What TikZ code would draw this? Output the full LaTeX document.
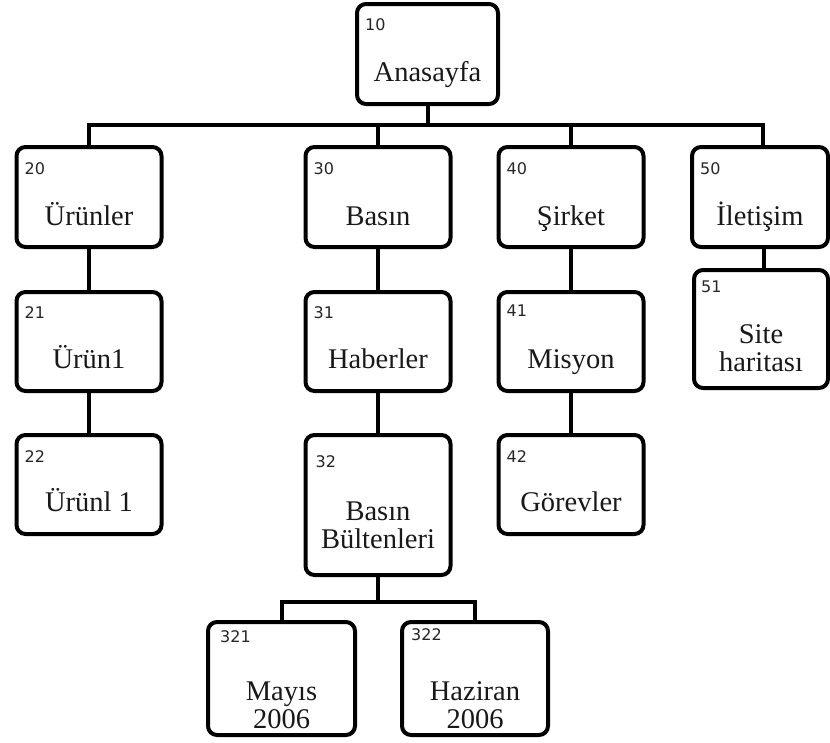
\documentclass[tikz,border=0pt]{standalone}
\usepackage{fontspec}
\setmainfont{Liberation Serif}
\newfontfamily\numfont{DejaVu Sans}
\usetikzlibrary{positioning}
\tikzset{
  % --- site pages ------------------------------------------------------------
  page/.style={rectangle,draw=black,fill=white,line width=4pt,
               rounded corners=9pt,inner sep=0pt,
               minimum width=145pt,minimum height=100pt},
  num/.style={anchor=north west,inner sep=0pt,text=black!85,
              font=\numfont\fontsize{16}{16}\selectfont},
  % base anchor of a two-line text sits on its last line
  txt/.style={anchor=base,inner sep=0pt,align=center,text=black!90,
              font=\fontsize{28.5}{28}\selectfont},
  % --- links -----------------------------------------------------------------
  link/.style={line width=4pt,black},
}
\begin{document}
\begin{tikzpicture}[x=1pt, y=-1pt]
  \useasboundingbox (0,0) rectangle (830,742);

  \node[page,minimum width=141pt] (b10) at (427.5,54) {};
  \node[page] (b20) at (89,197)  {};
  \node[page] (b30) at (378,197) {};
  \node[page] (b40) at (571,197) {};
  \node[page,minimum width=136pt] (b50) at (760,197) {};

  \node[page,minimum height=99pt]  (b21) at (89,341.5)  {};
  \node[page,minimum height=99pt]  (b31) at (378,341.5) {};
  \node[page,minimum height=99pt]  (b41) at (571,341.5) {};
  \node[page,minimum width=134pt,minimum height=118pt] (b51) at (761,329) {};

  \node[page,minimum height=99pt]  (b22) at (89,484.5)  {};
  \node[page,minimum height=140pt] (b32) at (378,505)   {};
  \node[page,minimum height=99pt]  (b42) at (571,484.5) {};

  \node[page,minimum width=147pt,minimum height=113pt] (b321) at (281.5,678.5) {};
  \node[page,minimum width=146pt,minimum height=113pt] (b322) at (475,678.5)   {};

  \coordinate (bus)  at (427.5,125);
  \coordinate (fork) at (378,602);
  \draw[link] (b10) -- (b10 |- bus);
  \draw[link] (b20) |- (bus) -| ([xshift=3pt]b50.north);
  \draw[link] (b30) -- (b30 |- bus);
  \draw[link] (b40) -- (b40 |- bus);
  \draw[link] (b20) -- (b21) (b21) -- (b22);
  \draw[link] (b30) -- (b31) (b31) -- (b32);
  \draw[link] (b40) -- (b41) (b41) -- (b42);
  \draw[link] ([xshift=4pt]b50.south) -- ([xshift=4pt]b50.south |- b51.north);
  \draw[link] (b32) -- (fork);
  \draw[link] (b321) |- (fork) -| (b322);

  \node[num] (n10)  at ([xshift=10pt,yshift=-16pt]b10.north west)  {10};
  \node[num] (n20)  at ([xshift=10pt,yshift=-17pt]b20.north west)  {20};
  \node[num] (n30)  at ([xshift=10pt,yshift=-17pt]b30.north west)  {30};
  \node[num] (n40)  at ([xshift=10pt,yshift=-17pt]b40.north west)  {40};
  \node[num] (n50)  at ([xshift=10pt,yshift=-17pt]b50.north west)  {50};
  \node[num] (n21)  at ([xshift=10pt,yshift=-16pt]b21.north west)  {21};
  \node[num] (n31)  at ([xshift=10pt,yshift=-16pt]b31.north west)  {31};
  \node[num] (n41)  at ([xshift=10pt,yshift=-15pt]b41.north west)  {41};
  \node[num] (n51)  at ([xshift=9pt,yshift=-13pt]b51.north west)   {51};
  \node[num] (n22)  at ([xshift=10pt,yshift=-17pt]b22.north west)  {22};
  \node[num] (n32)  at ([xshift=12pt,yshift=-22pt]b32.north west)  {32};
  \node[num] (n42)  at ([xshift=10pt,yshift=-17pt]b42.north west)  {42};
  \node[num] (n321) at ([xshift=14pt,yshift=-10pt]b321.north west) {321};
  \node[num] (n322) at ([xshift=11pt,yshift=-8pt]b322.north west)  {322};

  \node[txt] (t10)  at ([yshift=-79pt]b10.north)  {Anasayfa};
  \node[txt] (t20)  at ([yshift=-80pt]b20.north)  {Ürünler};
  \node[txt] (t30)  at ([yshift=-80pt]b30.north)  {Basın};
  \node[txt] (t40)  at ([yshift=-80pt]b40.north)  {Şirket};
  \node[txt] (t50)  at ([yshift=-80pt]b50.north)  {İletişim};
  \node[txt] (t21)  at ([yshift=-78pt]b21.north)  {Ürün1};
  \node[txt] (t31)  at ([yshift=-78pt]b31.north)  {Haberler};
  \node[txt] (t41)  at ([yshift=-78pt]b41.north)  {Misyon};
  \node[txt] (t51)  at ([yshift=-103pt]b51.north) {Site\\haritası};
  \node[txt] (t22)  at ([yshift=-78pt]b22.north)  {Ürünl 1};
  \node[txt] (t32)  at ([yshift=-115pt]b32.north) {Basın\\Bültenleri};
  \node[txt] (t42)  at ([yshift=-78pt]b42.north)  {Görevler};
  \node[txt] (t321) at ([yshift=-108pt]b321.north) {Mayıs\\2006};
  \node[txt] (t322) at ([yshift=-108pt]b322.north) {Haziran\\2006};
\end{tikzpicture}
\end{document}
